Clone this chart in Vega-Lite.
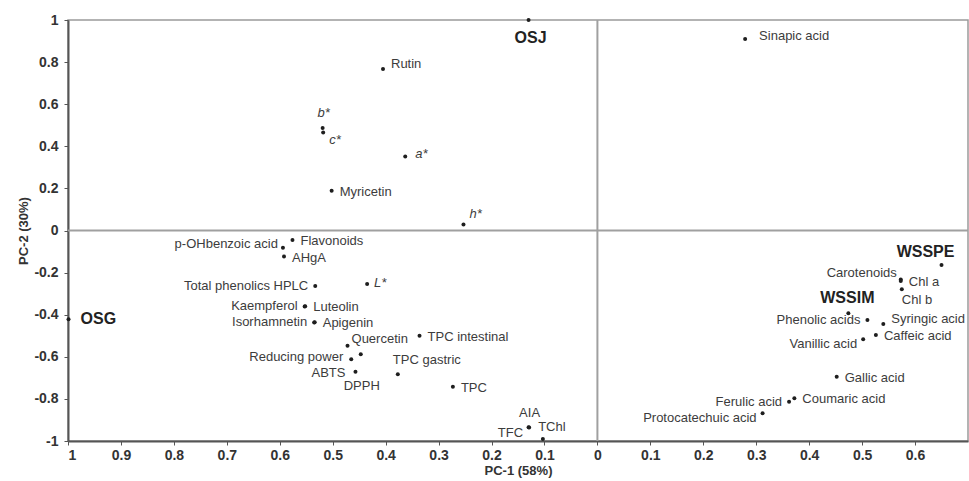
{
  "$schema": "https://vega.github.io/schema/vega-lite/v6.json",
  "width": 900,
  "height": 421,
  "autosize": {"type": "none"},
  "padding": {"left": 68, "top": 20, "right": 1, "bottom": 40},
  "background": "white",
  "config": {
    "view": {"stroke": "#9a9a9a", "strokeWidth": 1.5},
    "font": "Liberation Sans",
    "text": {"font": "Liberation Sans", "fontSize": 13, "color": "#3c3c3c", "baseline": "middle"},
    "axis": {
      "grid": false,
      "domainColor": "#555555",
      "domainWidth": 2,
      "tickColor": "#555555",
      "tickSize": 4,
      "tickWidth": 1,
      "labelFont": "Liberation Sans",
      "labelFontWeight": "bold",
      "labelFontSize": 14,
      "labelColor": "#333333",
      "titleFont": "Liberation Sans",
      "titleFontWeight": "bold",
      "titleFontSize": 13,
      "titleColor": "#333333"
    }
  },
  "data": {
    "values": [
      {"name": "OSJ", "pc1": -0.130, "pc2": 1.000},
      {"name": "OSG", "pc1": -0.999, "pc2": -0.422},
      {"name": "WSSPE", "pc1": 0.650, "pc2": -0.164},
      {"name": "WSSIM", "pc1": 0.474, "pc2": -0.393},
      {"name": "Rutin", "pc1": -0.405, "pc2": 0.767},
      {"name": "b*", "pc1": -0.519, "pc2": 0.487},
      {"name": "c*", "pc1": -0.518, "pc2": 0.466},
      {"name": "a*", "pc1": -0.363, "pc2": 0.351},
      {"name": "Myricetin", "pc1": -0.502, "pc2": 0.189},
      {"name": "h*", "pc1": -0.253, "pc2": 0.029},
      {"name": "Sinapic acid", "pc1": 0.279, "pc2": 0.910},
      {"name": "p-OHbenzoic acid", "pc1": -0.594, "pc2": -0.082},
      {"name": "Flavonoids", "pc1": -0.576, "pc2": -0.045},
      {"name": "AHgA", "pc1": -0.592, "pc2": -0.124},
      {"name": "Total phenolics HPLC", "pc1": -0.533, "pc2": -0.264},
      {"name": "L*", "pc1": -0.435, "pc2": -0.254},
      {"name": "Kaempferol", "pc1": -0.553, "pc2": -0.361},
      {"name": "Luteolin", "pc1": -0.552, "pc2": -0.360},
      {"name": "Isorhamnetin", "pc1": -0.535, "pc2": -0.437},
      {"name": "Apigenin", "pc1": -0.534, "pc2": -0.436},
      {"name": "Quercetin", "pc1": -0.472, "pc2": -0.547},
      {"name": "TPC intestinal", "pc1": -0.336, "pc2": -0.500},
      {"name": "Reducing power", "pc1": -0.465, "pc2": -0.612},
      {"name": "DPPH", "pc1": -0.447, "pc2": -0.588},
      {"name": "ABTS", "pc1": -0.457, "pc2": -0.671},
      {"name": "TPC gastric", "pc1": -0.377, "pc2": -0.683},
      {"name": "TPC", "pc1": -0.273, "pc2": -0.742},
      {"name": "AIA", "pc1": -0.130, "pc2": -0.935},
      {"name": "TFC", "pc1": -0.129, "pc2": -0.936},
      {"name": "TChl", "pc1": -0.103, "pc2": -0.990},
      {"name": "Carotenoids", "pc1": 0.573, "pc2": -0.233},
      {"name": "Chl a", "pc1": 0.573, "pc2": -0.240},
      {"name": "Chl b", "pc1": 0.575, "pc2": -0.279},
      {"name": "Phenolic acids", "pc1": 0.510, "pc2": -0.425},
      {"name": "Syringic acid", "pc1": 0.540, "pc2": -0.444},
      {"name": "Caffeic acid", "pc1": 0.526, "pc2": -0.496},
      {"name": "Vanillic acid", "pc1": 0.502, "pc2": -0.517},
      {"name": "Gallic acid", "pc1": 0.452, "pc2": -0.695},
      {"name": "Ferulic acid", "pc1": 0.362, "pc2": -0.813},
      {"name": "Coumaric acid", "pc1": 0.372, "pc2": -0.797},
      {"name": "Protocatechuic acid", "pc1": 0.312, "pc2": -0.868}
    ]
  },
  "layer": [
    {
      "data": {"values": [{}]},
      "mark": {"type": "rule", "color": "#a0a0a0", "strokeWidth": 2},
      "encoding": {"x": {"datum": 0, "type": "quantitative"}}
    },
    {
      "data": {"values": [{}]},
      "mark": {"type": "rule", "color": "#a0a0a0", "strokeWidth": 2},
      "encoding": {"y": {"datum": 0, "type": "quantitative"}}
    },
    {
      "encoding": {
        "x": {
          "field": "pc1",
          "type": "quantitative",
          "title": "PC-1 (58%)",
          "scale": {"domain": [-1, 0.7], "nice": false, "zero": false},
          "axis": {
            "values": [-1,-0.95,-0.9,-0.85,-0.8,-0.75,-0.7,-0.65,-0.6,-0.55,-0.5,-0.45,-0.4,-0.35,-0.3,-0.25,-0.2,-0.15,-0.1,-0.05,0,0.05,0.1,0.15,0.2,0.25,0.3,0.35,0.4,0.45,0.5,0.55,0.6,0.65],
            "labelExpr": "abs(round(datum.value*20))%2==0 ? '' + (abs(round(datum.value*10))/10) : ''",
            "labelPadding": 3,
            "titlePadding": 2
          }
        },
        "y": {
          "field": "pc2",
          "type": "quantitative",
          "title": "PC-2 (30%)",
          "scale": {"domain": [-1, 1], "nice": false, "zero": false},
          "axis": {
            "values": [-1,-0.9,-0.8,-0.7,-0.6,-0.5,-0.4,-0.3,-0.2,-0.1,0,0.1,0.2,0.3,0.4,0.5,0.6,0.7,0.8,0.9,1],
            "labelExpr": "abs(round(datum.value*10))%2==0 ? '' + (round(datum.value*10)/10) : ''",
            "labelPadding": 6,
            "titlePadding": 3
          }
        }
      },
      "layer": [
        {
          "mark": {"type": "circle", "size": 16, "color": "#1e1e1e", "opacity": 1}
        },
        {
          "transform": [{"filter": {"field": "name", "oneOf": ["OSJ"]}}],
          "mark": {"type": "text", "align": "center", "dx": 2, "dy": 18, "fontSize": 16, "fontWeight": "bold", "color": "#222222"},
          "encoding": {"text": {"field": "name"}}
        },
        {
          "transform": [{"filter": {"field": "name", "oneOf": ["OSG"]}}],
          "mark": {"type": "text", "align": "left", "dx": 12, "dy": 0, "fontSize": 16, "fontWeight": "bold", "color": "#222222"},
          "encoding": {"text": {"field": "name"}}
        },
        {
          "transform": [{"filter": {"field": "name", "oneOf": ["WSSPE"]}}],
          "mark": {"type": "text", "align": "center", "dx": -16, "dy": -13, "fontSize": 16, "fontWeight": "bold", "color": "#222222"},
          "encoding": {"text": {"field": "name"}}
        },
        {
          "transform": [{"filter": {"field": "name", "oneOf": ["WSSIM"]}}],
          "mark": {"type": "text", "align": "center", "dx": -1, "dy": -15, "fontSize": 16, "fontWeight": "bold", "color": "#222222"},
          "encoding": {"text": {"field": "name"}}
        },
        {
          "transform": [{"filter": {"field": "name", "oneOf": ["Myricetin", "Flavonoids", "AHgA", "Luteolin", "Apigenin", "TPC intestinal", "TPC", "Caffeic acid", "Gallic acid", "Coumaric acid", "Chl a"]}}],
          "mark": {"type": "text", "align": "left", "dx": 8, "dy": 1},
          "encoding": {"text": {"field": "name"}}
        },
        {
          "transform": [{"filter": {"field": "name", "oneOf": ["Rutin", "Syringic acid"]}}],
          "mark": {"type": "text", "align": "left", "dx": 8, "dy": -5},
          "encoding": {"text": {"field": "name"}}
        },
        {
          "transform": [{"filter": {"field": "name", "oneOf": ["Sinapic acid"]}}],
          "mark": {"type": "text", "align": "left", "dx": 14, "dy": -3},
          "encoding": {"text": {"field": "name"}}
        },
        {
          "transform": [{"filter": {"field": "name", "oneOf": ["Total phenolics HPLC", "Kaempferol", "Isorhamnetin", "Phenolic acids", "Ferulic acid"]}}],
          "mark": {"type": "text", "align": "right", "dx": -7, "dy": 0},
          "encoding": {"text": {"field": "name"}}
        },
        {
          "transform": [{"filter": {"field": "name", "oneOf": ["Reducing power"]}}],
          "mark": {"type": "text", "align": "right", "dx": -8, "dy": -2},
          "encoding": {"text": {"field": "name"}}
        },
        {
          "transform": [{"filter": {"field": "name", "oneOf": ["ABTS"]}}],
          "mark": {"type": "text", "align": "right", "dx": -10, "dy": 1},
          "encoding": {"text": {"field": "name"}}
        },
        {
          "transform": [{"filter": {"field": "name", "oneOf": ["p-OHbenzoic acid"]}}],
          "mark": {"type": "text", "align": "right", "dx": -5, "dy": -4},
          "encoding": {"text": {"field": "name"}}
        },
        {
          "transform": [{"filter": {"field": "name", "oneOf": ["TFC", "Vanillic acid", "Protocatechuic acid"]}}],
          "mark": {"type": "text", "align": "right", "dx": -6, "dy": 5},
          "encoding": {"text": {"field": "name"}}
        },
        {
          "transform": [{"filter": {"field": "name", "oneOf": ["Carotenoids"]}}],
          "mark": {"type": "text", "align": "right", "dx": -4, "dy": -7},
          "encoding": {"text": {"field": "name"}}
        },
        {
          "transform": [{"filter": {"field": "name", "oneOf": ["Chl b"]}}],
          "mark": {"type": "text", "align": "left", "dx": 0, "dy": 11},
          "encoding": {"text": {"field": "name"}}
        },
        {
          "transform": [{"filter": {"field": "name", "oneOf": ["Quercetin"]}}],
          "mark": {"type": "text", "align": "left", "dx": 4, "dy": -7},
          "encoding": {"text": {"field": "name"}}
        },
        {
          "transform": [{"filter": {"field": "name", "oneOf": ["DPPH"]}}],
          "mark": {"type": "text", "align": "center", "dx": 1, "dy": 32},
          "encoding": {"text": {"field": "name"}}
        },
        {
          "transform": [{"filter": {"field": "name", "oneOf": ["TPC gastric"]}}],
          "mark": {"type": "text", "align": "center", "dx": 29, "dy": -14},
          "encoding": {"text": {"field": "name"}}
        },
        {
          "transform": [{"filter": {"field": "name", "oneOf": ["AIA"]}}],
          "mark": {"type": "text", "align": "center", "dx": 1, "dy": -14},
          "encoding": {"text": {"field": "name"}}
        },
        {
          "transform": [{"filter": {"field": "name", "oneOf": ["TChl"]}}],
          "mark": {"type": "text", "align": "center", "dx": 9, "dy": -12},
          "encoding": {"text": {"field": "name"}}
        },
        {
          "transform": [{"filter": {"field": "name", "oneOf": ["a*"]}}],
          "mark": {"type": "text", "align": "left", "dx": 10, "dy": -3, "fontStyle": "italic"},
          "encoding": {"text": {"field": "name"}}
        },
        {
          "transform": [{"filter": {"field": "name", "oneOf": ["L*"]}}],
          "mark": {"type": "text", "align": "left", "dx": 7, "dy": -1, "fontStyle": "italic"},
          "encoding": {"text": {"field": "name"}}
        },
        {
          "transform": [{"filter": {"field": "name", "oneOf": ["c*"]}}],
          "mark": {"type": "text", "align": "left", "dx": 6, "dy": 8, "fontStyle": "italic"},
          "encoding": {"text": {"field": "name"}}
        },
        {
          "transform": [{"filter": {"field": "name", "oneOf": ["h*"]}}],
          "mark": {"type": "text", "align": "left", "dx": 6, "dy": -10, "fontStyle": "italic"},
          "encoding": {"text": {"field": "name"}}
        },
        {
          "transform": [{"filter": {"field": "name", "oneOf": ["b*"]}}],
          "mark": {"type": "text", "align": "center", "dx": 1, "dy": -15, "fontStyle": "italic"},
          "encoding": {"text": {"field": "name"}}
        }
      ]
    }
  ]
}
